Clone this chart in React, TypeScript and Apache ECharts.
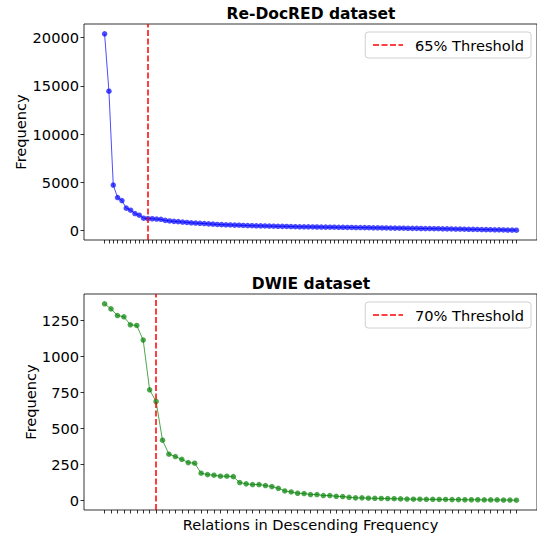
import React, { useEffect, useRef } from "react";
import * as echarts from "echarts";

const redocredValues: number[] = [
  20400, 14450, 4720, 3430, 3120, 2330, 2120, 1770, 1600, 1290,
  1250, 1230, 1200, 1170, 1060, 1000, 960, 930, 890, 850,
  810, 780, 760, 730, 700, 670, 640, 620, 600, 590,
  570, 560, 540, 525, 510, 500, 490, 480, 470, 460,
  450, 440, 430, 420, 410, 400, 395, 390, 380, 375,
  370, 360, 355, 350, 345, 340, 330, 325, 320, 315,
  310, 300, 295, 290, 280, 275, 270, 260, 255, 250,
  240, 235, 230, 220, 215, 210, 200, 195, 190, 180,
  175, 165, 160, 150, 140, 130, 120, 110, 100, 95,
  85, 80, 70, 60, 55, 45,
];

const dwieValues: number[] = [
  1362, 1327, 1281, 1272, 1217, 1212, 1111, 767, 686, 418,
  321, 305, 286, 263, 259, 190, 180, 176, 169, 169,
  166, 125, 116, 111, 111, 104, 97, 85, 67, 60,
  51, 49, 42, 42, 35, 35, 30, 28, 23, 19,
  19, 17, 16, 15, 14, 13, 12, 11, 10, 10,
  9, 9, 8, 8, 7, 7, 6, 6, 6, 5,
  5, 5, 4, 4, 3,
];

const titles = ["Re-DocRED dataset", "DWIE dataset"];
const thresholdNames = ["65% Threshold", "70% Threshold"];
const thresholdIndex = [10, 8];
const yTicksTop = [0, 5000, 10000, 15000, 20000];
const yTicksBottom = [0, 250, 500, 750, 1000, 1250];
const xAxisName = "Relations in Descending Frequency";
const yAxisName = "Frequency";

const FONT = "DejaVu Sans";

function pad(values: number[]) {
  const mx = Math.max(...values);
  const mn = Math.min(...values);
  const m = (mx - mn) * 0.05;
  return { min: mn - m, max: mx + m };
}

export default function App() {
  const ref = useRef<HTMLDivElement>(null);
  useEffect(() => {
    if (!ref.current) return;
    const chart = echarts.init(ref.current, null, { renderer: "svg" });
    const datasets = [redocredValues, dwieValues];
    const colors = ["#0000ff", "#008000"];
    const yTicks = [yTicksTop, yTicksBottom];
    const gridTops = [24, 294];
    const nameGaps = [56, 46];

    const grids = gridTops.map((t) => ({
      left: 84,
      top: t,
      width: 454,
      height: 216,
      show: true,
      borderColor: "#000",
      borderWidth: 0.8,
      backgroundColor: "transparent",
    }));

    const xAxes = datasets.map((vals, i) => {
      const n = vals.length - 1;
      const idx = vals.map((_, k) => k);
      return {
        type: "value",
        gridIndex: i,
        position: "bottom",
        min: -0.05 * n,
        max: n + 0.05 * n,
        axisLine: { show: false, onZero: false },
        splitLine: { show: false },
        axisTick: {
          show: true,
          inside: false,
          customValues: idx,
          length: 3.5,
          lineStyle: { color: "#000", width: 0.8 },
        },
        axisLabel: { show: false },
        name: i === 1 ? xAxisName : "",
        nameLocation: "middle",
        nameGap: 7,
        nameMoveOverlap: false,
        nameTextStyle: {
          fontFamily: FONT,
          fontSize: 14.6,
          color: "#000",
          verticalAlign: "top",
        },
      };
    });

    const yAxes = datasets.map((vals, i) => {
      const r = pad(vals);
      return {
        type: "value",
        gridIndex: i,
        position: "left",
        min: r.min,
        max: r.max,
        axisLine: { show: false, onZero: false },
        splitLine: { show: false },
        axisTick: {
          show: true,
          inside: false,
          customValues: yTicks[i],
          length: 3.5,
          lineStyle: { color: "#000", width: 0.8 },
        },
        axisLabel: {
          customValues: yTicks[i],
          formatter: (v: number) => String(v),
          fontFamily: FONT,
          fontSize: 14.6,
          color: "#000",
          margin: 5,
        },
        name: yAxisName,
        nameLocation: "middle",
        nameGap: nameGaps[i],
        nameMoveOverlap: false,
        nameRotate: 90,
        nameTextStyle: { fontFamily: FONT, fontSize: 14.6, color: "#000" },
      };
    });

    const series: any[] = [];
    datasets.forEach((vals, i) => {
      series.push({
        type: "line",
        xAxisIndex: i,
        yAxisIndex: i,
        data: vals.map((v, k) => [k, v]),
        symbol: "circle",
        symbolSize: 5.5,
        lineStyle: { color: colors[i], width: 1, opacity: 0.7 },
        itemStyle: { color: colors[i], opacity: 0.7 },
        markLine: {
          silent: true,
          symbol: "none",
          label: { show: false },
          lineStyle: { color: "#ff0000", type: [6, 2.5], width: 1.5, opacity: 1 },
          data: [{ xAxis: thresholdIndex[i] }],
        },
        z: 2,
      });
      series.push({
        type: "line",
        name: thresholdNames[i],
        xAxisIndex: i,
        yAxisIndex: i,
        data: [],
        symbol: "none",
        showSymbol: false,
        color: "#ff0000",
        lineStyle: { color: "#ff0000", type: [6, 2.5], width: 1.5 },
        itemStyle: { color: "#ff0000" },
      });
    });

    const legends = thresholdNames.map((nm, i) => ({
      data: [nm],
      right: 6,
      top: gridTops[i] + 8,
      orient: "vertical",
      padding: [4, 7],
      itemWidth: 30,
      itemHeight: 14,
      itemGap: 5,
      backgroundColor: "#fff",
      borderColor: "#d0d0d0",
      borderWidth: 1,
      borderRadius: 3,
      selectedMode: false,
      itemStyle: { color: "transparent", borderWidth: 0, opacity: 0 },
      lineStyle: { type: [6, 2.5], width: 1.5, color: "#ff0000" },
      textStyle: {
        fontFamily: FONT,
        fontSize: 14.6,
        color: "#000",
        padding: [0, 0, 0, 7],
        lineHeight: 18,
      },
    }));

    const titleOpts = titles.map((t, i) => ({
      text: t,
      left: 311,
      textAlign: "center",
      top: gridTops[i] - 18,
      padding: 0,
      textStyle: {
        fontFamily: FONT,
        fontSize: 15.5,
        fontWeight: "bold",
        color: "#000",
      },
    }));

    chart.setOption({
      animation: false,
      backgroundColor: "#fff",
      title: titleOpts,
      legend: legends,
      grid: grids,
      xAxis: xAxes,
      yAxis: yAxes,
      series,
    });
    return () => chart.dispose();
  }, []);
  return (
    <div
      ref={ref}
      style={{ position: "fixed", left: 0, top: 0, width: 537, height: 536 }}
    />
  );
}
